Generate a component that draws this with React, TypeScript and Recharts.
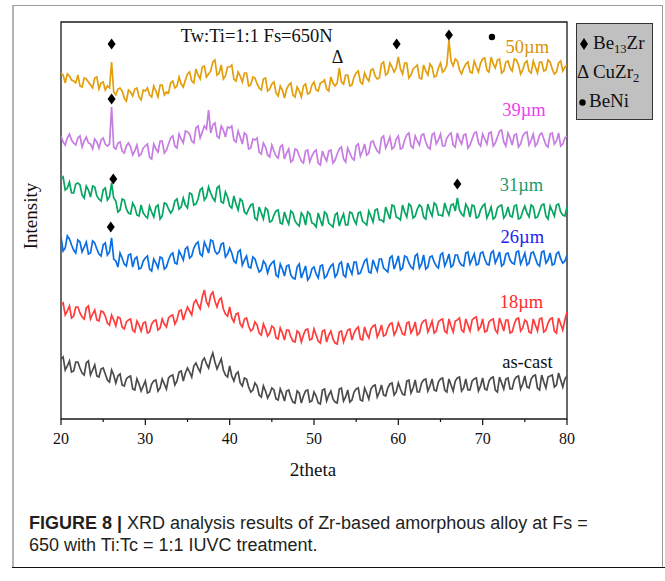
import React from "react";
import { ComposedChart, Line, Scatter, XAxis, YAxis, ReferenceArea } from "recharts";

// scan grid, 0.25 deg steps from 20 to 80
const twoTheta = Array.from({ length: 241 }, (_, i) => 20 + i * 0.25);

// intensities (arb. units, stacked with offsets); one row = 5 deg
const um50 = [
  346, 344, 336, 345, 343, 339, 338, 336, 344, 333, 332, 341, 340, 337, 334, 331, 341, 342, 330, 336,
  337, 329, 333, 331, 357, 327, 324, 330, 331, 328, 321, 318, 329, 327, 323, 330, 331, 322, 319, 329,
  328, 331, 324, 322, 333, 328, 322, 334, 334, 324, 327, 326, 336, 338, 331, 333, 342, 335, 332, 339,
  345, 347, 338, 336, 350, 344, 340, 352, 353, 342, 345, 348, 357, 359, 344, 346, 354, 340, 343, 352,
  352, 354, 340, 338, 347, 343, 337, 346, 346, 333, 334, 342, 341, 335, 331, 329, 340, 341, 328, 330,
  335, 337, 326, 323, 333, 329, 321, 330, 334, 336, 324, 322, 332, 328, 322, 333, 335, 325, 326, 334,
  337, 329, 328, 336, 337, 339, 330, 328, 342, 336, 333, 336, 351, 337, 335, 344, 344, 333, 334, 342,
  346, 348, 337, 335, 346, 341, 338, 349, 350, 343, 340, 341, 355, 357, 344, 346, 356, 352, 347, 351,
  362, 350, 345, 356, 356, 341, 344, 350, 352, 354, 341, 340, 354, 348, 344, 355, 352, 342, 343, 351,
  356, 347, 349, 354, 379, 358, 353, 360, 358, 349, 345, 351, 355, 357, 347, 346, 358, 352, 347, 356,
  360, 361, 349, 347, 362, 355, 351, 359, 360, 346, 348, 357, 358, 351, 348, 360, 359, 354, 345, 349,
  356, 358, 348, 346, 358, 352, 346, 357, 357, 348, 349, 359, 357, 350, 345, 347, 356, 358, 348, 352,
  354,
];
const um39 = [
  283, 277, 274, 281, 285, 279, 276, 274, 281, 283, 272, 278, 282, 276, 275, 270, 280, 277, 271, 279,
  281, 275, 273, 275, 312, 272, 270, 276, 277, 268, 266, 273, 276, 272, 264, 268, 274, 263, 265, 271,
  273, 275, 262, 260, 275, 270, 267, 278, 278, 266, 269, 275, 281, 283, 273, 271, 285, 280, 276, 288,
  287, 285, 278, 276, 291, 293, 281, 287, 293, 290, 309, 286, 294, 296, 283, 281, 293, 289, 282, 292,
  291, 293, 279, 277, 288, 282, 275, 286, 284, 270, 271, 280, 279, 281, 267, 265, 276, 272, 264, 262,
  274, 268, 263, 261, 272, 274, 260, 266, 270, 257, 259, 270, 269, 263, 258, 256, 268, 269, 257, 263,
  267, 269, 256, 254, 268, 262, 258, 268, 269, 256, 259, 265, 270, 272, 260, 257, 271, 266, 261, 259,
  273, 275, 263, 268, 275, 264, 266, 277, 278, 272, 268, 266, 281, 283, 271, 276, 282, 270, 272, 280,
  283, 270, 271, 279, 284, 286, 273, 271, 283, 278, 274, 284, 285, 277, 272, 270, 284, 286, 275, 279,
  285, 273, 273, 281, 284, 286, 274, 272, 286, 279, 275, 284, 285, 271, 274, 280, 286, 287, 276, 273,
  285, 280, 275, 286, 287, 273, 276, 282, 288, 289, 277, 273, 286, 281, 274, 284, 285, 272, 275, 283,
  286, 287, 274, 279, 285, 273, 276, 284, 286, 280, 274, 272, 285, 286, 275, 278, 286, 273, 275, 281,
  283,
];
const um31 = [
  240, 242, 229, 231, 237, 226, 226, 235, 236, 234, 224, 221, 233, 229, 222, 233, 232, 223, 220, 218,
  229, 231, 219, 222, 236, 221, 218, 207, 209, 220, 219, 210, 206, 205, 216, 212, 204, 203, 214, 206,
  203, 201, 213, 207, 202, 212, 214, 200, 203, 216, 215, 210, 206, 209, 218, 220, 210, 212, 221, 214,
  211, 226, 225, 214, 215, 220, 229, 231, 219, 222, 232, 226, 221, 218, 231, 233, 217, 216, 227, 222,
  213, 211, 223, 215, 209, 220, 218, 207, 205, 210, 214, 215, 201, 199, 212, 206, 200, 211, 209, 197,
  198, 204, 208, 209, 196, 195, 207, 200, 195, 208, 206, 198, 195, 193, 206, 203, 194, 207, 205, 196,
  195, 192, 206, 199, 193, 207, 205, 196, 194, 192, 204, 206, 193, 200, 205, 194, 194, 207, 206, 199,
  195, 206, 207, 198, 196, 194, 208, 203, 197, 209, 210, 199, 199, 197, 212, 206, 200, 214, 213, 202,
  201, 199, 214, 207, 202, 215, 213, 201, 203, 210, 214, 212, 202, 200, 215, 208, 203, 216, 214, 204,
  204, 203, 216, 209, 204, 214, 215, 208, 221, 209, 205, 203, 215, 211, 202, 214, 213, 201, 202, 209,
  213, 215, 201, 206, 212, 200, 202, 211, 213, 214, 201, 204, 212, 203, 202, 213, 214, 200, 201, 208,
  213, 206, 202, 214, 212, 201, 202, 208, 214, 215, 203, 200, 213, 208, 203, 214, 215, 207, 204, 203,
  212,
];
const um26 = [
  182, 168, 171, 183, 180, 174, 169, 166, 179, 177, 167, 172, 177, 165, 166, 178, 176, 170, 165, 163,
  174, 176, 164, 167, 181, 160, 158, 152, 166, 161, 155, 153, 164, 165, 152, 160, 162, 150, 151, 158,
  161, 163, 150, 148, 160, 156, 151, 162, 161, 150, 152, 159, 164, 166, 156, 155, 168, 164, 159, 170,
  172, 161, 163, 171, 175, 177, 165, 163, 177, 172, 166, 179, 178, 168, 165, 167, 175, 176, 162, 165,
  171, 166, 158, 156, 167, 169, 154, 159, 163, 152, 151, 162, 160, 153, 147, 149, 158, 155, 146, 153,
  156, 158, 144, 142, 155, 150, 143, 153, 154, 144, 141, 140, 152, 155, 141, 147, 153, 139, 142, 150,
  152, 145, 141, 153, 154, 141, 143, 149, 153, 155, 142, 145, 155, 157, 144, 142, 156, 150, 145, 157,
  157, 145, 146, 152, 158, 160, 147, 146, 159, 153, 148, 160, 160, 151, 149, 147, 161, 163, 150, 156,
  163, 149, 151, 163, 162, 156, 152, 150, 163, 165, 151, 155, 164, 150, 152, 162, 163, 157, 153, 151,
  164, 166, 153, 158, 165, 152, 154, 164, 164, 157, 154, 153, 166, 167, 155, 160, 165, 154, 155, 166,
  167, 160, 155, 154, 166, 168, 156, 161, 167, 153, 155, 165, 166, 159, 156, 155, 167, 168, 155, 160,
  166, 154, 156, 166, 167, 161, 155, 153, 167, 168, 156, 159, 166, 154, 155, 165, 167, 160, 156, 158,
  164,
];
const um18 = [
  114, 116, 104, 108, 113, 101, 103, 112, 112, 106, 102, 100, 111, 113, 100, 105, 109, 99, 98, 108,
  107, 103, 96, 94, 104, 99, 93, 102, 101, 92, 90, 97, 99, 100, 89, 87, 98, 94, 88, 96,
  97, 86, 87, 95, 98, 99, 89, 91, 100, 95, 92, 101, 103, 104, 95, 99, 108, 109, 99, 106,
  112, 108, 104, 116, 119, 114, 110, 122, 129, 117, 113, 124, 127, 118, 112, 119, 121, 110, 105, 103,
  112, 101, 97, 105, 106, 95, 92, 100, 101, 93, 88, 90, 97, 94, 86, 84, 95, 90, 83, 86,
  93, 91, 81, 80, 91, 86, 79, 89, 89, 82, 78, 77, 88, 86, 77, 84, 89, 90, 79, 80,
  90, 84, 78, 76, 88, 89, 77, 84, 88, 80, 76, 75, 87, 88, 77, 83, 89, 90, 79, 86,
  90, 92, 80, 79, 92, 85, 81, 90, 93, 94, 82, 87, 94, 83, 84, 91, 95, 96, 84, 88,
  96, 91, 85, 84, 96, 97, 86, 90, 97, 84, 86, 95, 98, 99, 87, 92, 98, 86, 88, 97,
  99, 100, 88, 86, 100, 93, 87, 98, 99, 101, 89, 87, 100, 94, 88, 99, 101, 102, 89, 92,
  100, 87, 88, 97, 99, 100, 89, 86, 101, 95, 88, 99, 99, 86, 87, 95, 100, 101, 88, 91,
  99, 97, 87, 86, 100, 94, 88, 100, 101, 87, 89, 96, 100, 101, 88, 86, 101, 95, 89, 99,
  107,
];
const asCast = [
  60, 62, 49, 53, 58, 47, 48, 57, 57, 51, 46, 44, 56, 58, 44, 49, 54, 43, 42, 50,
  51, 45, 39, 37, 49, 44, 36, 43, 45, 34, 33, 40, 42, 43, 30, 29, 40, 35, 28, 33,
  38, 26, 27, 35, 38, 39, 28, 31, 40, 35, 30, 41, 43, 44, 34, 38, 47, 48, 38, 46,
  51, 47, 42, 53, 56, 51, 47, 58, 61, 55, 51, 60, 66, 57, 50, 55, 60, 49, 44, 42,
  53, 43, 38, 45, 47, 36, 33, 41, 40, 32, 27, 29, 36, 33, 24, 22, 33, 28, 21, 25,
  31, 29, 20, 19, 30, 25, 18, 28, 29, 22, 17, 16, 28, 26, 16, 23, 28, 29, 17, 18,
  27, 23, 16, 15, 29, 30, 18, 24, 28, 20, 17, 16, 30, 31, 18, 22, 29, 17, 19, 27,
  30, 31, 19, 18, 31, 26, 20, 30, 33, 34, 22, 27, 34, 24, 23, 31, 35, 36, 24, 27,
  36, 30, 25, 24, 38, 39, 26, 31, 39, 27, 27, 36, 39, 40, 28, 33, 40, 29, 28, 37,
  40, 41, 29, 27, 40, 34, 28, 38, 41, 42, 28, 31, 40, 29, 29, 38, 40, 41, 28, 33,
  41, 30, 29, 38, 41, 42, 29, 27, 42, 36, 30, 40, 41, 30, 30, 39, 42, 43, 30, 35,
  43, 32, 31, 40, 43, 44, 31, 29, 44, 37, 31, 42, 43, 44, 32, 34, 46, 39, 32, 40,
  43,
];

const majorTicks = [20, 30, 40, 50, 60, 70, 80];
const minorTicks = [25, 35, 45, 55, 65, 75];

// phase markers: 2theta, height, phase
const peakMarks = [
  { t: 26.0, v: 375, kind: "diamond" },
  { t: 59.8, v: 375, kind: "diamond" },
  { t: 66.0, v: 384, kind: "diamond" },
  { t: 71.1, v: 382, kind: "dot" },
  { t: 52.8, v: 362, kind: "delta" },
  { t: 26.0, v: 320, kind: "diamond" },
  { t: 26.2, v: 240, kind: "diamond" },
  { t: 67.0, v: 235, kind: "diamond" },
  { t: 25.9, v: 192, kind: "diamond" },
];

const series = [
  { key: "um50", name: "50µm", line: "#e39e0b", text: "#d9940a", values: um50, t: 75.3, v: 372 },
  { key: "um39", name: "39µm", line: "#c77ce1", text: "#f03ef0", values: um39, t: 74.9, v: 309 },
  { key: "um31", name: "31µm", line: "#04a661", text: "#1a9a6c", values: um31, t: 74.6, v: 234 },
  { key: "um26", name: "26µm", line: "#0a6ee3", text: "#2222ee", values: um26, t: 74.7, v: 182 },
  { key: "um18", name: "18µm", line: "#ff3c3c", text: "#ff2a2a", values: um18, t: 74.6, v: 117 },
  { key: "asCast", name: "as-cast", line: "#4b4b4b", text: "#111111", values: asCast, t: 75.3, v: 57 },
];

const SERIF = '"Liberation Serif", "Times New Roman", serif';
const SANS = '"Liberation Sans", Arial, sans-serif';

const table = twoTheta.map((t, i) => {
  const row: Record<string, number> = { t };
  series.forEach((s) => (row[s.key] = s.values[i]));
  return row;
});

const notes = [
  { t: 43.2, v: 383, text: "Tw:Ti=1:1 Fs=650N", color: "#111" },
  ...series.map((s) => ({ t: s.t, v: s.v, text: s.name, color: s.text })),
];

function AxisTick(props: any) {
  const { x, y, payload } = props;
  const major = majorTicks.includes(payload.value);
  return (
    <g>
      <line x1={x} x2={x} y1={y} y2={y + (major ? 6 : 3)} stroke="#111" strokeWidth={1.2} />
      {major && (
        <text x={x} y={y + 19} textAnchor="middle" dominantBaseline="central" fontFamily={SERIF} fontSize={16} fill="#111">
          {payload.value}
        </text>
      )}
    </g>
  );
}

function renderMark(p: any) {
  const { cx, cy, payload } = p;
  if (payload.kind === "diamond") {
    return <polygon points={`${cx},${cy - 5.5} ${cx + 4},${cy} ${cx},${cy + 5.5} ${cx - 4},${cy}`} fill="#000" />;
  }
  if (payload.kind === "dot") return <circle cx={cx} cy={cy} r={3.2} fill="#000" />;
  return (
    <text x={cx} y={cy} textAnchor="middle" dominantBaseline="central" fontFamily={SERIF} fontSize={18} fill="#111">
      Δ
    </text>
  );
}

function renderNote(p: any) {
  const { cx, cy, payload } = p;
  return (
    <text x={cx} y={cy} textAnchor="middle" dominantBaseline="central" fontFamily={SERIF} fontSize={18.5} fill={payload.color}>
      {payload.text}
    </text>
  );
}

export default function App() {
  return (
    <div style={{ position: "absolute", left: 0, top: 0, width: 665, height: 581, background: "#fff" }}>
      {/* figure frame */}
      <div style={{ position: "absolute", left: 12, top: 5, width: 648, height: 562, borderTop: "1px solid #9a9a9a", borderLeft: "2px solid #b5b5b5", borderRight: "1px solid #9a9a9a" }} />
      <div style={{ position: "absolute", left: 12, top: 567, width: 653, height: 0, borderTop: "1.5px solid #111" }} />

      <div style={{ position: "absolute", left: 0, top: 0 }}>
        <ComposedChart width={665} height={581} data={table} margin={{ top: 22, left: 61, right: 98, bottom: 132 }}>
          <XAxis
            dataKey="t"
            type="number"
            domain={[20, 80]}
            allowDataOverflow
            ticks={[...majorTicks, ...minorTicks].sort((a, b) => a - b)}
            interval={0}
            tickSize={0}
            tickMargin={0}
            axisLine={false}
            tickLine={false}
            tick={<AxisTick />}
            height={30}
          />
          <YAxis hide type="number" domain={[0, 397]} allowDataOverflow />
          {series.map((s) => (
            <Line
              key={s.key}
              dataKey={s.key}
              stroke={s.line}
              strokeWidth={1.7}
              dot={false}
              isAnimationActive={false}
              type="linear"
            />
          ))}
          <Scatter data={peakMarks} dataKey="v" shape={renderMark} isAnimationActive={false} />
          <Scatter data={notes} dataKey="v" shape={renderNote} isAnimationActive={false} />
          <ReferenceArea x1={20} x2={80} y1={0} y2={397} fill="none" stroke="#1a1a1a" strokeWidth={1.3} />
        </ComposedChart>
      </div>

      {/* axis titles */}
      <div style={{ position: "absolute", left: 263, top: 458, width: 100, textAlign: "center", fontFamily: SERIF, fontSize: 19, color: "#111", lineHeight: "24px" }}>
        2theta
      </div>
      <div style={{ position: "absolute", left: -19, top: 204, width: 100, textAlign: "center", fontFamily: SERIF, fontSize: 19, color: "#111", lineHeight: "24px", transform: "rotate(-90deg)" }}>
        Intensity
      </div>

      {/* phase legend */}
      <div style={{ position: "absolute", left: 576, top: 23, width: 77, height: 97, boxSizing: "border-box", background: "#c0c0c0", border: "1px solid #333", fontFamily: SERIF, fontSize: 19, color: "#111" }}>
        <div style={{ position: "absolute", left: 3, top: 8, height: 22, lineHeight: "22px", whiteSpace: "nowrap" }}>
          <svg width={9} height={12} style={{ verticalAlign: "-1px", marginRight: 4 }}>
            <polygon points="4,0 8,6 4,12 0,6" fill="#000" />
          </svg>
          Be<span style={{ fontSize: 12.5, verticalAlign: "-4px" }}>13</span>Zr
        </div>
        <div style={{ position: "absolute", left: 0, top: 37, height: 22, lineHeight: "22px", whiteSpace: "nowrap" }}>
          Δ CuZr<span style={{ fontSize: 12.5, verticalAlign: "-4px" }}>2</span>
        </div>
        <div style={{ position: "absolute", left: 2, top: 66, height: 22, lineHeight: "22px", whiteSpace: "nowrap" }}>
          <svg width={7} height={7} style={{ verticalAlign: "1px", marginRight: 3 }}>
            <circle cx={3.5} cy={3.5} r={3.2} fill="#000" />
          </svg>
          BeNi
        </div>
      </div>

      {/* caption */}
      <div style={{ position: "absolute", left: 29, top: 512, fontFamily: SANS, fontSize: 18, lineHeight: "22px", color: "#231f20", whiteSpace: "nowrap" }}>
        <b>FIGURE 8 |</b> XRD analysis results of Zr-based amorphous alloy at Fs =
        <br />
        650 with Ti:Tc = 1:1 IUVC treatment.
      </div>
    </div>
  );
}
